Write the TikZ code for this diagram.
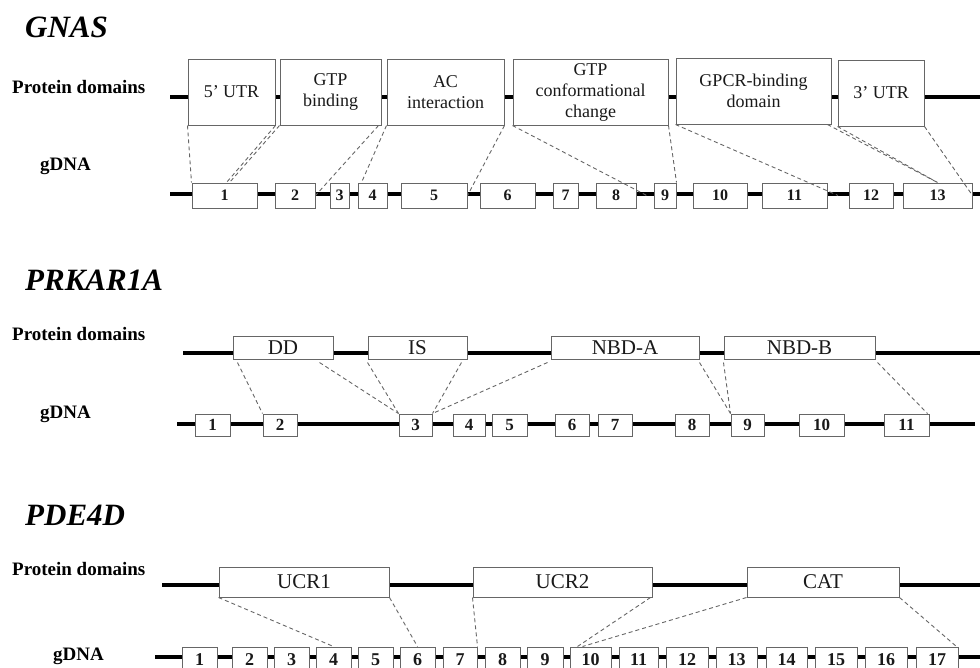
\documentclass[tikz,border=0pt]{standalone}
\usepackage{fontspec}
\setmainfont{Liberation Serif}
\usetikzlibrary{fit,calc}
\tikzset{
  backbone/.style={line width=3.6pt, black},
  dom/.style={draw=black!60, line width=1pt, fill=white, inner sep=0pt},
  gtext/.style={align=center, text=black!90, inner sep=0pt, font=\fontsize{18}{21}\selectfont},
  ptext/.style={align=center, text=black!90, inner sep=0pt, font=\fontsize{21}{22}\selectfont},
  exonbox/.style={draw=black!60, line width=1pt, fill=white, inner sep=0pt},
  etext/.style={text=black!90, inner sep=0pt, font=\bfseries\fontsize{#1}{#1}\selectfont},
  link/.style={black!60, line width=0.9pt, dash pattern=on 4pt off 3pt},
  genetitle/.style={anchor=base west, inner sep=0pt, font=\bfseries\itshape\fontsize{31}{31}\selectfont},
  rowlabel/.style={anchor=base west, inner sep=0pt, font=\bfseries\fontsize{19}{19}\selectfont},
}
\begin{document}
\begin{tikzpicture}[x=1pt,y=-1pt]
\useasboundingbox (0,0) rectangle (980,667);
\clip (0,0) rectangle (980,667);

% ---------------- GNAS ----------------
\node[genetitle] (tg) at (25,37) {GNAS};
\node[rowlabel] (pg) at (12,93) {Protein domains};
\node[rowlabel] (dg) at (40,170) {gDNA};
\coordinate (pgL) at (170,97); \coordinate (pgR) at (980,97);
\draw[backbone] (pgL) -- (pgR);
\coordinate (dgL) at (170,194); \coordinate (dgR) at (980,194);
\draw[backbone] (dgL) -- (dgR);

\node[dom, fit={(188,59) (275,125)}, label={[gtext]center:5’ UTR}] (utr5) {};
\node[dom, fit={(280,59) (381,125)}, label={[gtext]center:GTP\\binding}] (gtpb) {};
\node[dom, fit={(387,59) (504,125)}, label={[gtext]center:AC\\interaction}] (acint) {};
\node[dom, fit={(513,59) (668,125)}, label={[gtext]center:GTP\\conformational\\change}] (gtpc) {};
\node[dom, fit={(676,58) (831,124)}, label={[gtext]center:GPCR-binding\\domain}] (gpcr) {};
\node[dom, fit={(838,60) (924,126)}, label={[gtext]center:3’ UTR}] (utr3) {};

\foreach \n/\a/\b in {1/192/257, 2/275/315, 3/330/349, 4/358/387, 5/401/467,
  6/480/535, 7/553/578, 8/596/636, 9/654/676, 10/693/747, 11/762/827,
  12/849/893, 13/903/972}
  \node[exonbox, fit={(\a,183) (\b,208)}, label={[etext=16]center:\n}] (ge\n) {};

\draw[link] (utr5.south west) -- (ge1.north west);
\draw[link] (utr5.south east) -- ($(ge1.north)+(2,0)$);
\draw[link] (gtpb.south west) -- ($(ge1.north)+(5,0)$);
\draw[link] ($(gtpb.south east)+(-3,0)$) -- (ge2.east);
\draw[link] (acint.south west) -- ($(ge4.north west)+(4,0)$);
\draw[link] (acint.south east) -- (ge5.east);
\draw[link] (gtpc.south west) -- ($(ge8.east)!0.6!(ge9.west)$);
\draw[link] (gtpc.south east) -- (ge9.north east);
\draw[link] (gpcr.south west) -- ($(ge11.east)!0.5!(ge12.west)$);
\draw[link] ($(gpcr.south east)+(-4,0)$) -- (ge13.north);
\draw[link] (utr3.south west) -- (ge13.north);
\draw[link] (utr3.south east) -- (ge13.east);

% ---------------- PRKAR1A ----------------
\node[genetitle] (tp) at (25,290) {PRKAR1A};
\node[rowlabel] (pp) at (12,340) {Protein domains};
\node[rowlabel] (dp) at (40,418) {gDNA};
\coordinate (ppL) at (183,353); \coordinate (ppR) at (980,353);
\draw[backbone] (ppL) -- (ppR);
\coordinate (dpL) at (177,424); \coordinate (dpR) at (975,424);
\draw[backbone] (dpL) -- (dpR);

\node[dom, fit={(233,336) (333,359)}, label={[ptext]center:DD}] (dd) {};
\node[dom, fit={(368,336) (467,359)}, label={[ptext]center:IS}] (is) {};
\node[dom, fit={(551,336) (699,359)}, label={[ptext]center:NBD-A}] (nbda) {};
\node[dom, fit={(724,336) (875,359)}, label={[ptext]center:NBD-B}] (nbdb) {};

\foreach \n/\a/\b in {1/195/230, 2/263/297, 3/399/432, 4/453/485, 5/492/527,
  6/555/589, 7/598/632, 8/675/709, 9/731/764, 10/799/844, 11/884/929}
  \node[exonbox, fit={(\a,414) (\b,436)}, label={[etext=17]center:\n}] (pe\n) {};

\draw[link] ($(dd.south west)+(5,3)$) -- (pe2.north west);
\draw[link] ($(dd.south east)+(-14,3)$) -- (pe3.north west);
\draw[link] ($(is.south west)+(0,3)$) -- (pe3.north west);
\draw[link] ($(is.south east)+(-6,3)$) -- (pe3.north east);
\draw[link] ($(nbda.south west)+(-3,3)$) -- (pe3.north east);
\draw[link] ($(nbda.south east)+(0,3)$) -- (pe9.north west);
\draw[link] ($(nbdb.south west)+(0,3)$) -- (pe9.north west);
\draw[link] ($(nbdb.south east)+(2,3)$) -- ($(pe11.north east)+(-2,0)$);

% ---------------- PDE4D ----------------
\node[genetitle] (td) at (25,525) {PDE4D};
\node[rowlabel] (pd) at (12,575) {Protein domains};
\node[rowlabel] (dd4) at (53,660) {gDNA};
\coordinate (pdL) at (162,585); \coordinate (pdR) at (980,585);
\draw[backbone] (pdL) -- (pdR);
\coordinate (ddL) at (155,657); \coordinate (ddR) at (980,657);
\draw[backbone] (ddL) -- (ddR);

\node[dom, fit={(219,567) (389,597)}, label={[ptext]center:UCR1}] (ucr1) {};
\node[dom, fit={(473,567) (652,597)}, label={[ptext]center:UCR2}] (ucr2) {};
\node[dom, fit={(747,567) (899,597)}, label={[ptext]center:CAT}] (cat) {};

\foreach \n/\a/\b in {1/182/217, 2/232/267, 3/274/309, 4/316/351, 5/358/393,
  6/400/435, 7/443/477, 8/485/520, 9/527/563, 10/570/611, 11/619/658,
  12/666/708, 13/716/757, 14/766/807, 15/815/857, 16/865/907, 17/916/958}
  \node[exonbox, fit={(\a,647) (\b,673)}, label={[etext=18]center:\n}] (de\n) {};

\draw[link] (ucr1.south west) -- (de4.north);
\draw[link] (ucr1.south east) -- (de6.north);
\draw[link] (ucr2.south west) -- (de7.north east);
\draw[link] ($(ucr2.south east)+(-2,0)$) -- ($(de10.north west)+(8,0)$);
\draw[link] (cat.south west) -- ($(de10.north west)+(13,0)$);
\draw[link] (cat.south east) -- ($(de17.north east)+(-2,0)$);
\end{tikzpicture}
\end{document}
